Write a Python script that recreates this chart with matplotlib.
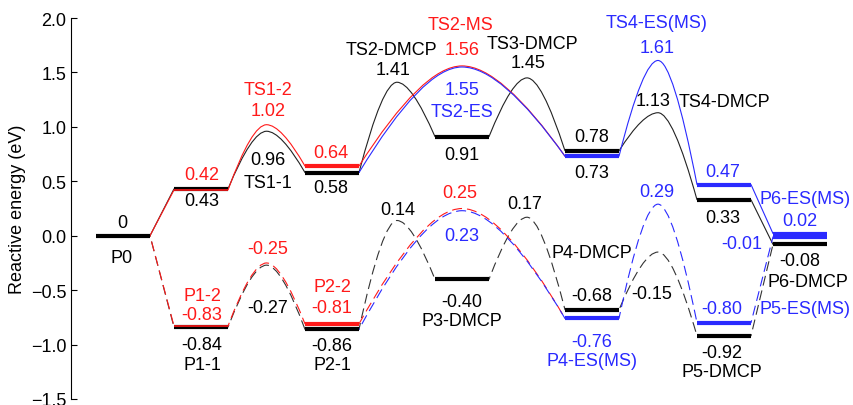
"""
Reaction energy profile (DMCP / MS / ES pathways).
"""
import matplotlib.pyplot as plt
from matplotlib.path import Path
from matplotlib.patches import PathPatch

plt.rcParams["font.family"] = ["Liberation Sans", "DejaVu Sans"]

RED = "#ff1a1a"
BLUE = "#2a2aff"
BLACK = "#000000"

# ---- data (eV) -------------------------------------------------------------
# each pathway: slot indices of the intermediates, their energies, and the
# transition-state energy between consecutive intermediates (None = no barrier)
dmcp_up_slots = [0, 1, 2, 3, 4, 5, 6]
dmcp_up_e = [0, 0.43, 0.58, 0.91, 0.78, 0.33, -0.08]
dmcp_up_ts = [None, 0.96, 1.41, 1.45, 1.13, None]

ms_up_slots = [0, 1, 2, 4]
ms_up_e = [0, 0.42, 0.64, 0.73]
ms_up_ts = [None, 1.02, 1.56]

es_up_slots = [2, 4, 5, 6]
es_up_e = [0.58, 0.73, 0.47, 0.02]
es_up_ts = [1.55, 1.61, None]

dmcp_lo_slots = [0, 1, 2, 3, 4, 5, 6]
dmcp_lo_e = [0, -0.84, -0.86, -0.40, -0.68, -0.92, -0.08]
dmcp_lo_ts = [None, -0.27, 0.14, 0.17, -0.15, None]

ms_lo_slots = [0, 1, 2, 4]
ms_lo_e = [0, -0.83, -0.81, -0.76]
ms_lo_ts = [None, -0.25, 0.25]

es_lo_slots = [2, 4, 5, 6]
es_lo_e = [-0.86, -0.76, -0.80, -0.01]
es_lo_ts = [0.23, 0.29, None]

# level bars: (slot, energy, colour, linewidth)
bars = [
    (0, 0, BLACK, 3), (1, 0.43, BLACK, 3), (1, 0.42, RED, 1.2),
    (2, 0.58, BLACK, 3), (2, 0.64, RED, 3), (3, 0.91, BLACK, 3),
    (4, 0.78, BLACK, 3), (4, 0.73, BLUE, 3), (5, 0.33, BLACK, 3),
    (5, 0.47, BLUE, 3), (6, -0.08, BLACK, 3), (6, 0.02, BLUE, 3),
    (1, -0.84, BLACK, 3), (1, -0.83, RED, 1.2), (2, -0.86, BLACK, 3),
    (2, -0.81, RED, 3), (3, -0.40, BLACK, 3), (4, -0.68, BLACK, 3),
    (4, -0.76, BLUE, 3), (5, -0.92, BLACK, 3), (5, -0.80, BLUE, 3),
    (6, -0.01, BLUE, 3),
]

# annotations: (text, x, energy, colour, ha)
labels = [
    ("0", 122, 0.12, BLACK, "center"), ("P0", 122, -0.20, BLACK, "center"),
    ("0.42", 202, 0.56, RED, "center"), ("0.43", 202, 0.32, BLACK, "center"),
    ("TS1-2", 268, 1.34, RED, "center"), ("1.02", 268, 1.15, RED, "center"),
    ("0.96", 268, 0.70, BLACK, "center"), ("TS1-1", 268, 0.49, BLACK, "center"),
    ("0.64", 331, 0.76, RED, "center"), ("0.58", 331, 0.44, BLACK, "center"),
    ("TS2-DMCP", 391, 1.71, BLACK, "center"), ("1.41", 393, 1.53, BLACK, "center"),
    ("TS2-MS", 461, 1.94, RED, "center"), ("1.56", 462, 1.71, RED, "center"),
    ("TS3-DMCP", 532, 1.77, BLACK, "center"), ("1.45", 528, 1.59, BLACK, "center"),
    ("1.55", 462, 1.34, BLUE, "center"), ("TS2-ES", 462, 1.14, BLUE, "center"),
    ("0.91", 462, 0.75, BLACK, "center"),
    ("0.78", 592, 0.91, BLACK, "center"), ("0.73", 592, 0.58, BLACK, "center"),
    ("TS4-ES(MS)", 657, 1.96, BLUE, "center"), ("1.61", 657, 1.73, BLUE, "center"),
    ("1.13", 653, 1.24, BLACK, "center"), ("TS4-DMCP", 679, 1.23, BLACK, "left"),
    ("0.47", 723, 0.59, BLUE, "center"), ("P6-ES(MS)", 805, 0.34, BLUE, "center"),
    ("0.33", 723, 0.17, BLACK, "center"), ("0.02", 800, 0.14, BLUE, "center"),
    ("-0.01", 742, -0.07, BLUE, "center"), ("-0.08", 800, -0.23, BLACK, "center"),
    ("P6-DMCP", 808, -0.42, BLACK, "center"),
    ("-0.25", 268, -0.12, RED, "center"),
    ("P1-2", 202, -0.55, RED, "center"), ("-0.83", 202, -0.72, RED, "center"),
    ("-0.27", 268, -0.66, BLACK, "center"),
    ("-0.84", 202, -1.00, BLACK, "center"), ("P1-1", 202, -1.18, BLACK, "center"),
    ("P2-2", 332, -0.47, RED, "center"), ("-0.81", 332, -0.66, RED, "center"),
    ("-0.86", 332, -1.01, BLACK, "center"), ("P2-1", 332, -1.18, BLACK, "center"),
    ("0.14", 398, 0.24, BLACK, "center"), ("0.25", 460, 0.40, RED, "center"),
    ("0.17", 525, 0.30, BLACK, "center"), ("0.23", 462, 0.00, BLUE, "center"),
    ("-0.40", 462, -0.60, BLACK, "center"), ("P3-DMCP", 462, -0.78, BLACK, "center"),
    ("P4-DMCP", 592, -0.15, BLACK, "center"),
    ("-0.68", 592, -0.55, BLACK, "center"),
    ("-0.76", 592, -0.97, BLUE, "center"), ("P4-ES(MS)", 592, -1.15, BLUE, "center"),
    ("0.29", 657, 0.41, BLUE, "center"), ("-0.15", 652, -0.53, BLACK, "center"),
    ("-0.80", 722, -0.67, BLUE, "center"),
    ("-0.92", 722, -1.07, BLACK, "center"), ("P5-DMCP", 722, -1.25, BLACK, "center"),
    ("P5-ES(MS)", 805, -0.67, BLUE, "center"),
]

# ---- layout ----------------------------------------------------------------
slot_x = [96, 174, 305, 435, 565, 697, 773]   # left end of each level bar
bar_w = 54


def pathway(slots, energies, ts):
    """Build a Path: straight steps or quadratic humps peaking at the TS."""
    verts = [(slot_x[slots[0]], energies[0]), (slot_x[slots[0]] + bar_w, energies[0])]
    codes = [Path.MOVETO, Path.LINETO]
    for k in range(1, len(slots)):
        xa, ya = slot_x[slots[k - 1]] + bar_w, energies[k - 1]
        xb, yb = slot_x[slots[k]], energies[k]
        t = ts[k - 1]
        if t is None:
            verts.append((xb, yb))
            codes.append(Path.LINETO)
        else:
            xm = (xa + xb) / 2
            verts += [(xa + 0.62 * (xm - xa), t), (xm, t),
                      (xb - 0.62 * (xb - xm), t), (xb, yb)]
            codes += [Path.CURVE3, Path.CURVE3, Path.CURVE3, Path.CURVE3]
        verts.append((xb + bar_w, yb))
        codes.append(Path.LINETO)
    return Path(verts, codes)


fig = plt.figure(figsize=(8.54, 4.06), dpi=100)
ax = fig.add_axes([71 / 854, 6 / 406, 1 - 71 / 854, 381 / 406])

dash = (0, (9, 4.5))
curves = [
    (dmcp_up_slots, dmcp_up_e, dmcp_up_ts, "#222222", "-"),
    (ms_up_slots, ms_up_e, ms_up_ts, RED, "-"),
    (es_up_slots, es_up_e, es_up_ts, BLUE, "-"),
    (dmcp_lo_slots, dmcp_lo_e, dmcp_lo_ts, "#333333", dash),
    (ms_lo_slots, ms_lo_e, ms_lo_ts, RED, dash),
    (es_lo_slots, es_lo_e, es_lo_ts, BLUE, dash),
]
for slots, e, ts, color, ls in curves:
    ax.add_patch(PathPatch(pathway(slots, e, ts), facecolor="none",
                           edgecolor=color, linewidth=0.8, linestyle=ls, zorder=2))

for slot, e, color, lw in bars:
    ax.hlines(e, slot_x[slot], slot_x[slot] + bar_w, colors=color,
              linewidth=lw, zorder=3 if lw > 2 else 4)

for text, x, y, color, ha in labels:
    ax.text(x, y, text, color=color, fontsize=13, ha=ha, va="center", zorder=5)

ax.set_xlim(71, 854)
ax.set_ylim(-1.5, 2.0)
ax.set_yticks([-1.5, -1.0, -0.5, 0.0, 0.5, 1.0, 1.5, 2.0])
ax.set_xticks([])
ax.tick_params(axis="y", direction="in", length=4, labelsize=13)
ax.set_ylabel("Reactive energy (eV)", fontsize=13, labelpad=3)
for side in ("top", "right", "bottom"):
    ax.spines[side].set_visible(False)
ax.patch.set_alpha(0)

fig.savefig("out.png", dpi=100)
